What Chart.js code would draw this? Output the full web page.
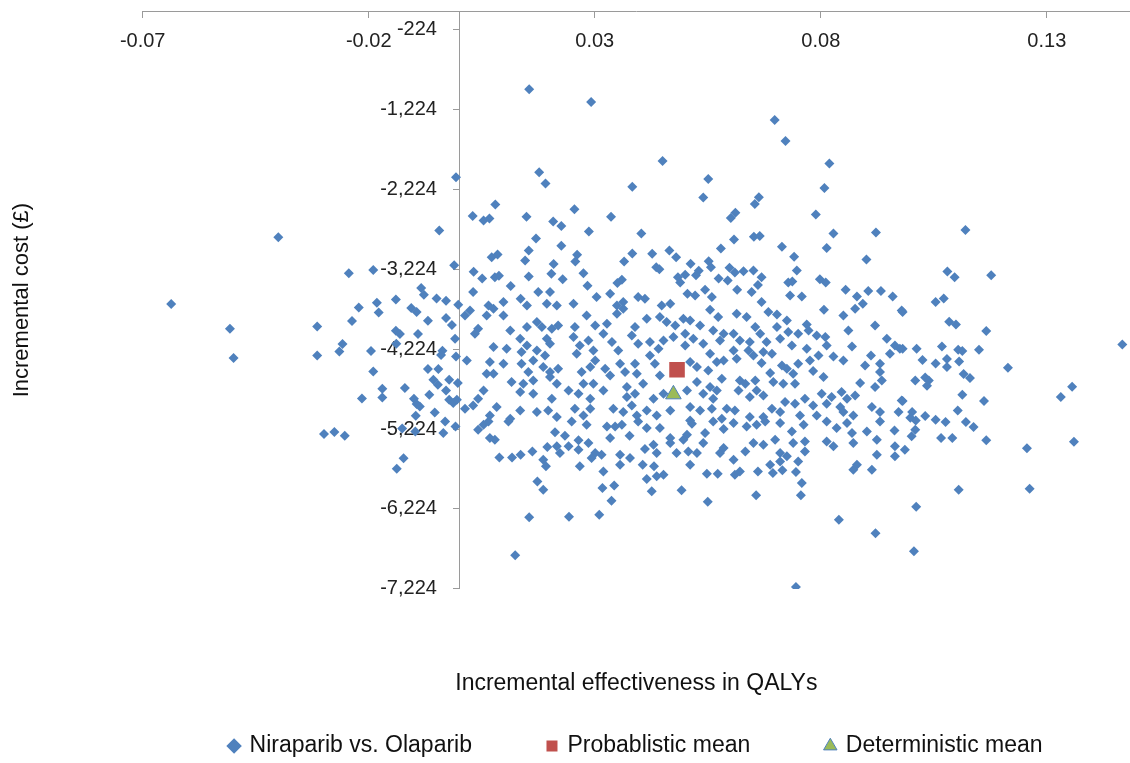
<!DOCTYPE html>
<html lang="en">
<head>
  <meta charset="UTF-8">
  <title>Niraparib vs. Olaparib - cost-effectiveness plane</title>
  <script src="https://cdn.jsdelivr.net/npm/chart.js"></script>
  <style>
    body { margin: 0; background: #fff; }
    canvas { display: block; }
  </style>
</head>
<body>
  <canvas id="ceChart" width="1130" height="763"></canvas>

  <script>
    // PSA runs: [incremental QALYs, incremental cost]
    const psaRuns = [
      // left of the y axis
      [-0.0007,-2074],[-0.0400,-2824],[-0.0044,-2741],[-0.0637,-3661],[-0.0244,-3274],[-0.0190,-3236],[-0.0011,-3174],[-0.0507,-3970],
      [-0.0499,-4336],[-0.0314,-3941],[-0.0314,-4304],[-0.0222,-3704],[-0.0237,-3874],[-0.0258,-4161],[-0.0265,-4254],[-0.0182,-3645],
      [-0.0178,-3766],[-0.0140,-3604],[-0.0195,-4249],[-0.0190,-4504],[-0.0140,-3995],[-0.0131,-4036],[-0.0139,-4158],[-0.0091,-4036],
      [-0.0084,-3461],[-0.0078,-3545],[-0.0050,-3591],[-0.0029,-3620],[-0.0106,-3711],[-0.0094,-3761],[-0.0069,-3870],[-0.0029,-3836],
      [-0.0016,-3924],[-0.0002,-3670],[-0.0009,-4095],[-0.0037,-4245],[-0.0040,-4299],[-0.0007,-4316],[-0.0069,-4474],[-0.0046,-4474],
      [-0.0057,-4608],[-0.0047,-4670],[-0.0022,-4608],[-0.0003,-4649],[-0.0029,-4741],[-0.0170,-4720],[-0.0170,-4829],[-0.0120,-4711],
      [-0.0215,-4841],[-0.0100,-4845],[-0.0094,-4911],[-0.0087,-4941],[-0.0066,-4795],[-0.0022,-4858],[-0.0013,-4899],[-0.0005,-4858],
      [-0.0054,-5016],[-0.0096,-5058],[-0.0031,-5129],[-0.0008,-5191],[-0.0035,-5274],[-0.0126,-5216],[-0.0097,-5254],[-0.0299,-5286],
      [-0.0276,-5261],[-0.0253,-5308],[-0.0123,-5591],[-0.0138,-5720],
      // upper centre
      [0.0155,-974],[0.0292,-1133],[0.0698,-1358],[0.0722,-1620],[0.0450,-1870],[0.0177,-2011],[0.0191,-2154],[0.0383,-2195],
      [0.0551,-2095],[0.0540,-2329],[0.0654,-2408],[0.0663,-2324],[0.0080,-2416],[0.0030,-2558],[0.0054,-2616],[0.0067,-2591],
      [0.0149,-2570],[0.0255,-2474],[0.0336,-2570],[0.0208,-2629],[0.0226,-2683],[0.0287,-2754],[0.0403,-2779],[0.0170,-2841],
      [0.0601,-2583],[0.0611,-2520],[0.0608,-2854],[0.0652,-2820],[0.0665,-2808],[0.0154,-2991],[0.0226,-2933],[0.0072,-3074],
      [0.0085,-3041],[0.0146,-3116],[0.0209,-3161],[0.0261,-3045],[0.0257,-3129],[0.0383,-3029],[0.0365,-3129],[0.0427,-3033],
      [0.0465,-2991],[0.0480,-3074],[0.0579,-2966],[0.0714,-2945],[0.0032,-3258],[0.0051,-3341],[0.0079,-3324],[0.0088,-3308],
      [0.0154,-3316],[0.0204,-3283],[0.0229,-3349],[0.0275,-3274],[0.0114,-3436],[0.0436,-3199],[0.0443,-3224],[0.0512,-3158],
      [0.0552,-3124],[0.0557,-3199],[0.0530,-3245],[0.0524,-3299],[0.0500,-3295],[0.0484,-3324],[0.0489,-3391],[0.0574,-3341],
      [0.0594,-3366],[0.0598,-3208],[0.0610,-3266],[0.0629,-3249],[0.0651,-3241],[0.0669,-3324],[0.0661,-3424],[0.0350,-3399],
      [0.0360,-3358],[0.0284,-3433],[0.0728,-3391],
      // upper right
      [0.0819,-1904],[0.0808,-2208],[0.0789,-2541],[0.0828,-2779],[0.0922,-2766],[0.1120,-2736],[0.0813,-2961],[0.0901,-3104],
      [0.0741,-3070],[0.0747,-3241],[0.0737,-3379],[0.0798,-3349],[0.0811,-3391],[0.1080,-3254],[0.1096,-3324],[0.1177,-3299],
      // right, middle band
      [0.1054,-3636],[0.1072,-3591],[0.0981,-3761],[0.1084,-3883],[0.1099,-3916],[0.1166,-3999],[0.1467,-4166],[0.0981,-4220],
      [0.1012,-4220],[0.1068,-4191],[0.1104,-4233],[0.1113,-4249],[0.1150,-4233],[0.1025,-4361],[0.1054,-4404],[0.1079,-4349],
      [0.1079,-4449],[0.1106,-4379],[0.1214,-4458],[0.1009,-4616],[0.1031,-4579],[0.1039,-4616],[0.1035,-4683],[0.1116,-4536],
      [0.1130,-4586],[0.1113,-4795],[0.1161,-4874],[0.1331,-4824],[0.1356,-4695],[0.0981,-4874],[0.1103,-4991],[0.1002,-5011],
      [0.0998,-5083],[0.1031,-5061],[0.1054,-5108],[0.1010,-5116],[0.1076,-5136],[0.1121,-5136],
      // right, lower band
      [0.1138,-5199],[0.1009,-5233],[0.1001,-5316],[0.1066,-5336],[0.1091,-5336],[0.1166,-5366],[0.1256,-5466],[0.1360,-5383],
      [0.0986,-5483],[0.1105,-5983],[0.1262,-5970],[0.1011,-6195],[0.1006,-6754],
      // centre right, middle band
      [0.0544,-3483],[0.0505,-3533],[0.0522,-3554],[0.0559,-3574],[0.0615,-3483],[0.0647,-3511],[0.0732,-3554],[0.0758,-3566],
      [0.0855,-3483],[0.0880,-3566],[0.0905,-3499],[0.0933,-3499],[0.0959,-3566],[0.0555,-3733],[0.0573,-3824],[0.0614,-3783],
      [0.0636,-3824],[0.0669,-3636],[0.0684,-3761],[0.0703,-3791],[0.0725,-3866],[0.0807,-3733],[0.0850,-3804],[0.0876,-3720],
      [0.0893,-3658],[0.0979,-3741],[0.0496,-3845],[0.0511,-3866],[0.0533,-3929],[0.0769,-3916],[0.0920,-3929],[0.0861,-3991],
      [0.0562,-3991],[0.0585,-4033],[0.0607,-4033],[0.0655,-3949],[0.0666,-4033],[0.0703,-3949],[0.0728,-4011],[0.0750,-4033],
      [0.0773,-3991],[0.0500,-4033],[0.0518,-4095],[0.0540,-4158],[0.0577,-4116],[0.0621,-4116],[0.0643,-4136],[0.0680,-4136],
      [0.0710,-4095],[0.0791,-4054],[0.0810,-4074],[0.0813,-4179],[0.0736,-4179],[0.0769,-4220],[0.0869,-4191],[0.0946,-4095],
      [0.0964,-4179],[0.0975,-4220],[0.0953,-4283],[0.0500,-4179],[0.0555,-4283],[0.0607,-4241],[0.0614,-4345],[0.0640,-4241],
      [0.0651,-4304],[0.0673,-4261],[0.0692,-4283],[0.0570,-4386],[0.0585,-4366],[0.0669,-4399],[0.0714,-4429],[0.0750,-4408],
      [0.0776,-4366],[0.0795,-4304],[0.0828,-4316],[0.0850,-4366],[0.0898,-4429],[0.0911,-4304],[0.0931,-4408],[0.0526,-4449],
      [0.0511,-4386],[0.0551,-4491],[0.0688,-4524],[0.0725,-4470],[0.0739,-4533],[0.0783,-4499],[0.0806,-4574],[0.0621,-4616],
      [0.0633,-4658],[0.0655,-4616],[0.0695,-4636],[0.0717,-4658],[0.0743,-4658],[0.0887,-4649],[0.0931,-4511],[0.0935,-4616],
      [0.0920,-4699],[0.0526,-4636],[0.0555,-4699],[0.0581,-4595],[0.0504,-4741],[0.0540,-4783],[0.0570,-4741],[0.0562,-4845],
      [0.0618,-4741],[0.0658,-4741],[0.0643,-4824],[0.0673,-4804],[0.0802,-4783],[0.0824,-4824],[0.0846,-4761],[0.0858,-4845],
      [0.0876,-4804],[0.0979,-4866],[0.0721,-4886],[0.0743,-4908],[0.0765,-4845],[0.0783,-4929],[0.0813,-4908],[0.0843,-4949],
      [0.0850,-5011],[0.0511,-4949],[0.0533,-4991],[0.0559,-4970],[0.0592,-4970],[0.0610,-4991],[0.0692,-4970],[0.0710,-5011],
      [0.0913,-4949],[0.0931,-5011],[0.0872,-5054],[0.0754,-5054],[0.0791,-5054],[0.0511,-5116],[0.0581,-5095],[0.0643,-5074],
      [0.0673,-5074],[0.0972,-5011],
      // centre left, middle band
      [0.0031,-3511],[0.0065,-3679],[0.0076,-3720],[0.0098,-3636],[0.0136,-3595],[0.0150,-3679],[0.0175,-3511],[0.0201,-3511],
      [0.0194,-3658],[0.0216,-3679],[0.0253,-3658],[0.0304,-3574],[0.0334,-3533],[0.0349,-3679],[0.0363,-3636],[0.0396,-3574],
      [0.0411,-3595],[0.0448,-3679],[0.0467,-3658],[0.0013,-3804],[0.0024,-3741],[0.0061,-3804],[0.0098,-3804],[0.0042,-3970],
      [0.0035,-4033],[0.0113,-3991],[0.0172,-3886],[0.0183,-3949],[0.0150,-3949],[0.0205,-3970],[0.0219,-3929],[0.0256,-3949],
      [0.0282,-3804],[0.0301,-3929],[0.0327,-3908],[0.0349,-3783],[0.0363,-3720],[0.0389,-3949],[0.0415,-3845],[0.0444,-3824],
      [0.0459,-3886],[0.0478,-3929],[0.0076,-4199],[0.0105,-4220],[0.0135,-4095],[0.0150,-4179],[0.0138,-4261],[0.0172,-4241],
      [0.0194,-4095],[0.0201,-4158],[0.0190,-4304],[0.0253,-4074],[0.0267,-4179],[0.0260,-4283],[0.0286,-4116],[0.0297,-4241],
      [0.0319,-4033],[0.0338,-4136],[0.0352,-4241],[0.0382,-4054],[0.0396,-4158],[0.0422,-4136],[0.0441,-4220],[0.0452,-4116],
      [0.0474,-4074],[0.0017,-4366],[0.0068,-4386],[0.0098,-4408],[0.0076,-4533],[0.0061,-4533],[0.0138,-4408],[0.0164,-4366],
      [0.0153,-4511],[0.0186,-4449],[0.0201,-4511],[0.0219,-4470],[0.0271,-4511],[0.0290,-4449],[0.0301,-4366],[0.0323,-4470],
      [0.0334,-4554],[0.0356,-4408],[0.0367,-4511],[0.0389,-4408],[0.0393,-4533],[0.0407,-4658],[0.0422,-4304],[0.0433,-4408],
      [0.0444,-4554],[0.0054,-4741],[0.0042,-4845],[0.0116,-4636],[0.0142,-4658],[0.0164,-4616],[0.0164,-4783],[0.0135,-4761],
      [0.0201,-4574],[0.0216,-4658],[0.0205,-4845],[0.0242,-4741],[0.0264,-4783],[0.0275,-4658],[0.0297,-4658],[0.0290,-4845],
      [0.0319,-4741],[0.0371,-4699],[0.0371,-4824],[0.0389,-4783],[0.0430,-4845],[0.0452,-4783],[0.0013,-4970],[0.0031,-4929],
      [0.0083,-4949],[0.0068,-5054],[0.0135,-4991],[0.0113,-5095],[0.0172,-5011],[0.0197,-4991],[0.0216,-5074],[0.0256,-4970],
      [0.0275,-5054],[0.0290,-4970],[0.0341,-4970],[0.0363,-5011],[0.0382,-4929],[0.0393,-5054],[0.0415,-4991],[0.0437,-5054],
      [0.0467,-4991],
      // centre right, lower band
      [0.0515,-5158],[0.0504,-5295],[0.0544,-5274],[0.0562,-5129],[0.0585,-5224],[0.0607,-5149],[0.0636,-5191],[0.0658,-5170],
      [0.0677,-5129],[0.0710,-5149],[0.0736,-5254],[0.0762,-5170],[0.0813,-5129],[0.0835,-5211],[0.0858,-5149],[0.0869,-5274],
      [0.0902,-5254],[0.0931,-5129],[0.0963,-5241],[0.0496,-5358],[0.0540,-5399],[0.0507,-5504],[0.0526,-5524],[0.0577,-5524],
      [0.0585,-5461],[0.0633,-5504],[0.0651,-5399],[0.0673,-5420],[0.0699,-5358],[0.0710,-5524],[0.0725,-5566],[0.0739,-5399],
      [0.0765,-5379],[0.0765,-5504],[0.0813,-5379],[0.0828,-5441],[0.0872,-5399],[0.0924,-5358],[0.0924,-5545],[0.0964,-5441],
      [0.0964,-5566],[0.0607,-5608],[0.0511,-5670],[0.0688,-5670],[0.0710,-5629],[0.0750,-5629],[0.0548,-5783],[0.0572,-5783],
      [0.0610,-5795],[0.0621,-5754],[0.0661,-5754],[0.0694,-5774],[0.0715,-5741],[0.0745,-5761],[0.0872,-5733],[0.0880,-5670],
      [0.0913,-5733],[0.0758,-5899],[0.0492,-5991],[0.0657,-6054],[0.0756,-6054],[0.0550,-6133],[0.0840,-6358],[0.0921,-6529],
      [0.0745,-7199],
      // centre left, lower band
      [0.0042,-5233],[0.0054,-5170],[0.0065,-5129],[0.0068,-5336],[0.0079,-5358],[0.0109,-5129],[0.0212,-5266],[0.0234,-5308],
      [0.0249,-5129],[0.0282,-5170],[0.0327,-5191],[0.0345,-5191],[0.0360,-5170],[0.0334,-5336],[0.0377,-5308],[0.0396,-5129],
      [0.0415,-5211],[0.0444,-5211],[0.0467,-5336],[0.0467,-5399],[0.0089,-5579],[0.0117,-5579],[0.0136,-5545],[0.0162,-5504],
      [0.0195,-5449],[0.0216,-5441],[0.0223,-5524],[0.0186,-5608],[0.0192,-5691],[0.0242,-5441],[0.0264,-5366],[0.0264,-5483],
      [0.0286,-5399],[0.0267,-5691],[0.0301,-5524],[0.0293,-5586],[0.0315,-5545],[0.0356,-5545],[0.0378,-5586],[0.0356,-5670],
      [0.0319,-5754],[0.0411,-5474],[0.0430,-5420],[0.0437,-5524],[0.0406,-5670],[0.0431,-5691],[0.0452,-5795],[0.0415,-5849],
      [0.0437,-5816],[0.0481,-5524],[0.0173,-5879],[0.0186,-5983],[0.0317,-5961],[0.0343,-5929],[0.0337,-6120],[0.0426,-6004],
      [0.0155,-6329],[0.0243,-6320],[0.0310,-6295],[0.0124,-6804]
    ];

    const probMean = [0.0482, -4483];   // probabilistic mean
    const detMean = [0.0474, -4790];    // deterministic mean

    const xTicks = [-0.07, -0.02, 0.03, 0.08, 0.13];
    const yTicks = [-7224, -6224, -5224, -4224, -3224, -2224, -1224, -224];

    const FONT = "'Liberation Sans', Arial, sans-serif";
    const AXIS_GREY = '#9a9a9a';
    Chart.defaults.font.family = FONT;

    const toPoint = ([x, y]) => ({ x: x, y: y });

    new Chart(document.getElementById('ceChart'), {
      type: 'scatter',
      data: {
        datasets: [
          {
            label: 'Niraparib vs. Olaparib',
            data: psaRuns.map(toPoint),
            pointStyle: 'rectRot',
            pointRadius: 5,
            pointHoverRadius: 5,
            backgroundColor: '#4f81bd',
            borderColor: '#4f81bd',
            borderWidth: 0,
            order: 3
          },
          {
            label: 'Probablistic mean',
            data: [toPoint(probMean)],
            pointStyle: 'rect',
            pointRadius: 11,
            pointHoverRadius: 11,
            backgroundColor: '#c0504d',
            borderColor: '#c0504d',
            borderWidth: 0,
            order: 2
          },
          {
            label: 'Deterministic mean',
            data: [toPoint(detMean)],
            pointStyle: 'triangle',
            pointRadius: 9,
            pointHoverRadius: 9,
            backgroundColor: '#9bbb59',
            borderColor: '#4f81bd',
            borderWidth: 1,
            order: 1
          }
        ]
      },
      options: {
        responsive: false,
        devicePixelRatio: 1,
        animation: false,
        events: [],
        layout: {
          autoPadding: false,   // otherwise the big mean markers reserve 11px on every side
          padding: { top: 11.4, right: 0, bottom: -4.5, left: 0 }
        },
        scales: {
          // horizontal axis crosses at cost 0, i.e. along the top edge
          x: {
            type: 'linear',
            min: -0.07,
            max: 0.1484,
            position: { y: 0 },
            afterBuildTicks: (scale) => { scale.ticks = xTicks.map(v => ({ value: v })); },
            ticks: {
              font: { size: 20, lineHeight: 1.1 },
              color: '#222',
              padding: 13,
              maxRotation: 0,
              callback: (v) => v.toFixed(2)
            },
            grid: { drawOnChartArea: false, tickLength: 6, color: AXIS_GREY },
            border: { color: AXIS_GREY, width: 1 }
          },
          // vertical axis crosses at 0 QALYs
          y: {
            type: 'linear',
            min: -7224,
            max: 0,
            position: { x: 0 },
            afterBuildTicks: (scale) => { scale.ticks = yTicks.map(v => ({ value: v })); },
            afterFit: (scale) => { scale.paddingTop = 0; scale.paddingBottom = 0; },
            ticks: {
              font: { size: 20, lineHeight: 1.1 },
              color: '#222',
              padding: 0,
              // labels sit right on the axis here, the spaces keep them off it
              callback: (v) => v.toLocaleString('en-US') + '    '
            },
            grid: { drawOnChartArea: false, tickLength: 6, color: AXIS_GREY },
            border: { color: AXIS_GREY, width: 1 }
          }
        },
        plugins: {
          tooltip: { enabled: false },
          // y axis title on the far left
          title: {
            display: true,
            position: 'left',
            fullSize: false,
            text: 'Incremental cost (£)',
            color: '#111',
            font: { size: 22, weight: 'normal' },
            padding: { top: 9, bottom: 107.3 }
          },
          // x axis title, between the plot and the legend
          subtitle: {
            display: true,
            position: 'bottom',
            fullSize: false,
            weight: 500,
            text: 'Incremental effectiveness in QALYs',
            color: '#111',
            font: { size: 23, weight: 'normal' },
            padding: { top: 81, bottom: -39 }
          },
          legend: {
            position: 'bottom',
            fullSize: false,
            labels: {
              usePointStyle: true,
              boxWidth: 8,
              boxHeight: 11,
              padding: 76,
              color: '#111',
              font: { size: 23 },
              sort: (a, b) => a.datasetIndex - b.datasetIndex
            }
          }
        }
      }
    });
  </script>
</body>
</html>
